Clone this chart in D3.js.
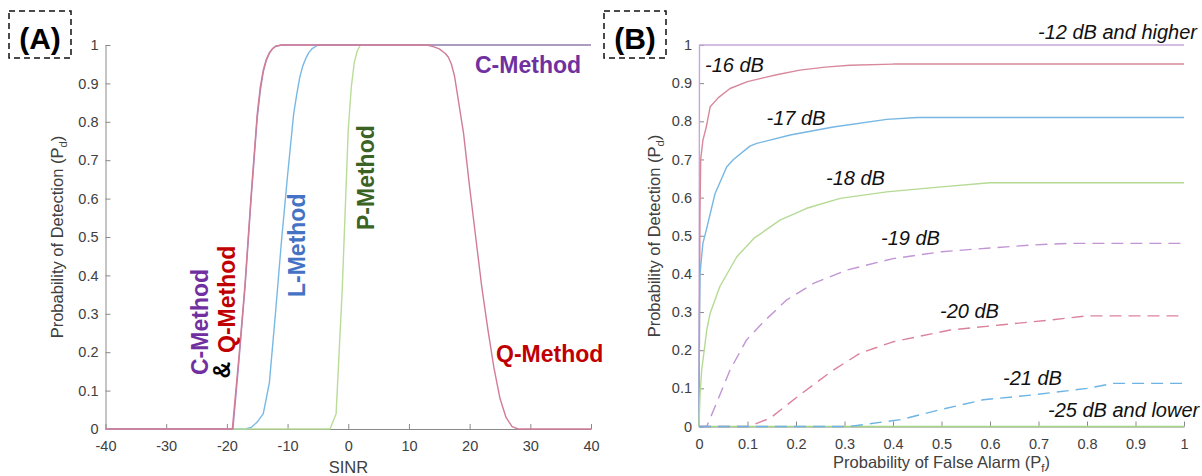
<!DOCTYPE html>
<html>
<head>
<meta charset="utf-8">
<script src="https://cdn.jsdelivr.net/npm/d3@7"></script>
<style>
  body { margin: 0; background: #fff; }
  svg { display: block; font-family: "Liberation Sans", Arial, sans-serif; }
</style>
</head>
<body>
<svg id="chart" width="1202" height="476"></svg>
<script>
// ---------- Panel A: Pd versus SINR for each detection method ----------
const sinrTicks = [-40, -30, -20, -10, 0, 10, 20, 30, 40];
const pdTicks = [0, 0.1, 0.2, 0.3, 0.4, 0.5, 0.6, 0.7, 0.8, 0.9, 1];
const pdTickLabels = ["0", "0.1", "0.2", "0.3", "0.4", "0.5", "0.6", "0.7", "0.8", "0.9", "1"];

const cMethodSinr = [-40, -19, -18, -17, -16, -15, -14.5, -14, -13.5, -13, -12.5, -12, -11, 40];
const cMethodPd   = [0, 0, 0.18, 0.37, 0.6, 0.81, 0.88, 0.93, 0.96, 0.978, 0.99, 0.996, 1, 1];

const lMethodSinr = [-40, -17, -16, -15, -14, -13, -12, -11, -10, -9, -8.5, -8, -7.5, -7, -6.5, -6, -5, 40];
const lMethodPd   = [0, 0, 0.004, 0.018, 0.04, 0.12, 0.3, 0.49, 0.66, 0.82, 0.87, 0.915, 0.945, 0.965, 0.98, 0.99, 1, 1];

const pMethodSinr = [-40, -3, -2, -1, 0, 0.5, 1, 1.5, 2, 40];
const pMethodPd   = [0, 0, 0.04, 0.36, 0.78, 0.89, 0.955, 0.985, 1, 1];

const qMethodSinr = [-40, -19.1, -18, -17, -16, -15, -14.5, -14, -13.5, -13, -12.5, -12, -11,
                     13, 14, 15, 16, 16.5, 17, 17.5, 18, 19, 20, 21, 22, 23, 24, 25, 26, 27, 28, 40];
const qMethodPd   = [0, 0, 0.19, 0.38, 0.61, 0.82, 0.89, 0.935, 0.963, 0.98, 0.99, 0.997, 1,
                     1, 0.996, 0.99, 0.978, 0.968, 0.95, 0.92, 0.87, 0.77, 0.63, 0.5, 0.37, 0.26, 0.16, 0.08, 0.03, 0.006, 0, 0];

// ---------- Panel B: ROC curves (Pd versus Pf) at several SINR levels ----------
const pfTicks = [0, 0.1, 0.2, 0.3, 0.4, 0.5, 0.6, 0.7, 0.8, 0.9, 1];
const pfTickLabels = ["0", "0.1", "0.2", "0.3", "0.4", "0.5", "0.6", "0.7", "0.8", "0.9", "1"];

const pf12 = [0, 0.001, 1];
const pd12 = [0, 1, 1];

const pf16 = [0, 0.002, 0.0035, 0.008, 0.015, 0.023, 0.04, 0.064, 0.1, 0.126, 0.16, 0.208, 0.26, 0.311, 0.4, 0.5, 1];
const pd16 = [0, 0.55, 0.70, 0.75, 0.785, 0.838, 0.862, 0.886, 0.904, 0.912, 0.922, 0.934, 0.942, 0.947, 0.95, 0.95, 0.95];

const pf17 = [0, 0.001, 0.002, 0.008, 0.016, 0.033, 0.057, 0.071, 0.105, 0.119, 0.188, 0.277, 0.387, 0.45, 1];
const pd17 = [0, 0.3, 0.4, 0.48, 0.52, 0.61, 0.68, 0.70, 0.735, 0.742, 0.764, 0.785, 0.805, 0.81, 0.81];

const pf18 = [0, 0.002, 0.0055, 0.016, 0.023, 0.043, 0.078, 0.113, 0.167, 0.222, 0.291, 0.387, 0.5, 0.6, 1];
const pd18 = [0, 0.08, 0.147, 0.253, 0.297, 0.367, 0.445, 0.493, 0.541, 0.572, 0.598, 0.615, 0.628, 0.639, 0.639];

const pf19 = [0, 0.016, 0.036, 0.064, 0.098, 0.136, 0.181, 0.236, 0.304, 0.4, 0.5, 0.6, 0.69, 0.76, 1];
const pd19 = [0, 0, 0.061, 0.148, 0.227, 0.278, 0.332, 0.375, 0.41, 0.44, 0.458, 0.468, 0.476, 0.48, 0.48];

const pf20 = [0, 0.102, 0.147, 0.208, 0.277, 0.332, 0.4, 0.518, 0.62, 0.724, 0.8, 1];
const pd20 = [0, 0, 0.022, 0.083, 0.148, 0.192, 0.222, 0.253, 0.266, 0.279, 0.29, 0.29];

const pf21 = [0, 0.31, 0.416, 0.497, 0.586, 0.69, 0.8, 0.855, 1];
const pd21 = [0, 0, 0.018, 0.044, 0.07, 0.083, 0.1, 0.113, 0.113];

const pf25 = [0, 1];
const pd25 = [0, 0];

// ---------- drawing ----------
const svg = d3.select("#chart");
const axisColor = "#8a8a8a";
const tickTextColor = "#404040";

const xA = d3.scaleLinear().domain([-40, 40]).range([105.5, 591]);
const yA = d3.scaleLinear().domain([0, 1]).range([429, 45]);
const xB = d3.scaleLinear().domain([0, 1]).range([699, 1184]);
const yB = d3.scaleLinear().domain([0, 1]).range([426.5, 45]);

function drawAxes(x, y, xVals, xLabels, yVals, yLabels) {
  const xAxis = d3.axisBottom(x).tickValues(xVals)
    .tickFormat((d, i) => xLabels[i])
    .tickSizeInner(-5).tickSizeOuter(0).tickPadding(12);
  const yAxis = d3.axisLeft(y).tickValues(yVals)
    .tickFormat((d, i) => yLabels[i])
    .tickSizeInner(-5).tickSizeOuter(0).tickPadding(7);
  const gx = svg.append("g").attr("transform", `translate(0,${y(0)})`).call(xAxis);
  const gy = svg.append("g").attr("transform", `translate(${x(x.domain()[0])},0)`).call(yAxis);
  [gx, gy].forEach(g => {
    g.attr("font-family", null).attr("font-size", null);
    g.select(".domain").attr("stroke", axisColor).attr("stroke-width", 1);
    g.selectAll(".tick line").attr("stroke", axisColor);
    g.selectAll(".tick text").attr("fill", tickTextColor).style("font-size", "14.5px");
  });
}

drawAxes(xA, yA, sinrTicks, sinrTicks.map(String), pdTicks, pdTickLabels);
drawAxes(xB, yB, pfTicks, pfTickLabels, pdTicks, pdTickLabels);

function drawLine(x, y, xs, ys, color, dashed) {
  const pts = xs.map((v, i) => [v, ys[i]]);
  const line = d3.line().x(d => x(d[0])).y(d => y(d[1]));
  svg.append("path")
    .attr("d", line(pts))
    .attr("fill", "none")
    .attr("stroke", color)
    .attr("stroke-width", 1.4)
    .attr("stroke-linejoin", "round")
    .attr("stroke-dasharray", dashed ? "12,7" : null);
}

// Panel A curves (C and Q on top where they coincide at Pd = 1)
drawLine(xA, yA, lMethodSinr, lMethodPd, "#78b9e4");
drawLine(xA, yA, pMethodSinr, pMethodPd, "#b9dc98");
drawLine(xA, yA, cMethodSinr, cMethodPd, "#a98bc9");
drawLine(xA, yA, qMethodSinr, qMethodPd, "#d17d96");

// Panel B curves
drawLine(xB, yB, pf12, pd12, "#c7a6d8");
drawLine(xB, yB, pf25, pd25, "#a6d585");
drawLine(xB, yB, pf16, pd16, "#d8889b");
drawLine(xB, yB, pf17, pd17, "#76b7e3");
drawLine(xB, yB, pf18, pd18, "#b4da94");
drawLine(xB, yB, pf19, pd19, "#c195d3", true);
drawLine(xB, yB, pf20, pd20, "#da829b", true);
drawLine(xB, yB, pf21, pd21, "#6db4e5", true);

// Axis titles
function axisTitleWithSub(x, y, rotate, main, sub) {
  const t = svg.append("text")
    .attr("transform", `translate(${x},${y})` + (rotate ? " rotate(-90)" : ""))
    .attr("text-anchor", "middle")
    .attr("fill", tickTextColor)
    .style("font-size", "16.5px");
  t.append("tspan").text(main + " (P");
  t.append("tspan").attr("dy", 4).style("font-size", "11.5px").text(sub);
  t.append("tspan").attr("dy", -4).text(")");
}
axisTitleWithSub(63, 237, true, "Probability of Detection", "d");
axisTitleWithSub(660, 236, true, "Probability of Detection", "d");
axisTitleWithSub(941.5, 468, false, "Probability of False Alarm", "f");
svg.append("text").attr("x", 348.5).attr("y", 473).attr("text-anchor", "middle")
  .attr("fill", tickTextColor).style("font-size", "16.5px").text("SINR");

// Panel tags in dashed boxes
function panelTag(cx, label) {
  svg.append("rect").attr("x", cx - 31).attr("y", 11).attr("width", 62).attr("height", 47)
    .attr("fill", "none").attr("stroke", "#111").attr("stroke-width", 1.5)
    .attr("stroke-dasharray", "6,4");
  svg.append("text").attr("x", cx).attr("y", 48.5).attr("text-anchor", "middle")
    .attr("font-weight", "bold").style("font-size", "30px").attr("fill", "#000").text(label);
}
panelTag(40, "(A)");
panelTag(635, "(B)");

// Method labels in panel A
function methodLabel(x, y, text, color, rotate) {
  svg.append("text")
    .attr("transform", `translate(${x},${y})` + (rotate ? " rotate(-90)" : ""))
    .attr("fill", color).attr("font-weight", "bold").style("font-size", "23px")
    .text(text);
}
methodLabel(475, 73, "C-Method", "#7030a0", false);
methodLabel(496, 361.5, "Q-Method", "#c00000", false);
methodLabel(207.5, 375, "C-Method", "#7030a0", true);
methodLabel(230, 378.5, "&", "#000000", true);
methodLabel(235, 353, "Q-Method", "#c00000", true);
methodLabel(305, 297, "L-Method", "#4472c4", true);
methodLabel(374, 230, "P-Method", "#3b6324", true);

// SINR level labels in panel B
const levelLabel = (x, y, text) => svg.append("text").attr("x", x).attr("y", y)
  .attr("font-style", "italic").attr("fill", "#111").style("font-size", "20px").text(text);
levelLabel(1038, 39, "-12 dB and higher");
levelLabel(705, 71.5, "-16 dB");
levelLabel(766.5, 125, "-17 dB");
levelLabel(826, 185, "-18 dB");
levelLabel(881, 245, "-19 dB");
levelLabel(940, 318, "-20 dB");
levelLabel(1003, 385, "-21 dB");
levelLabel(1048, 417, "-25 dB and lower");
</script>
</body>
</html>
